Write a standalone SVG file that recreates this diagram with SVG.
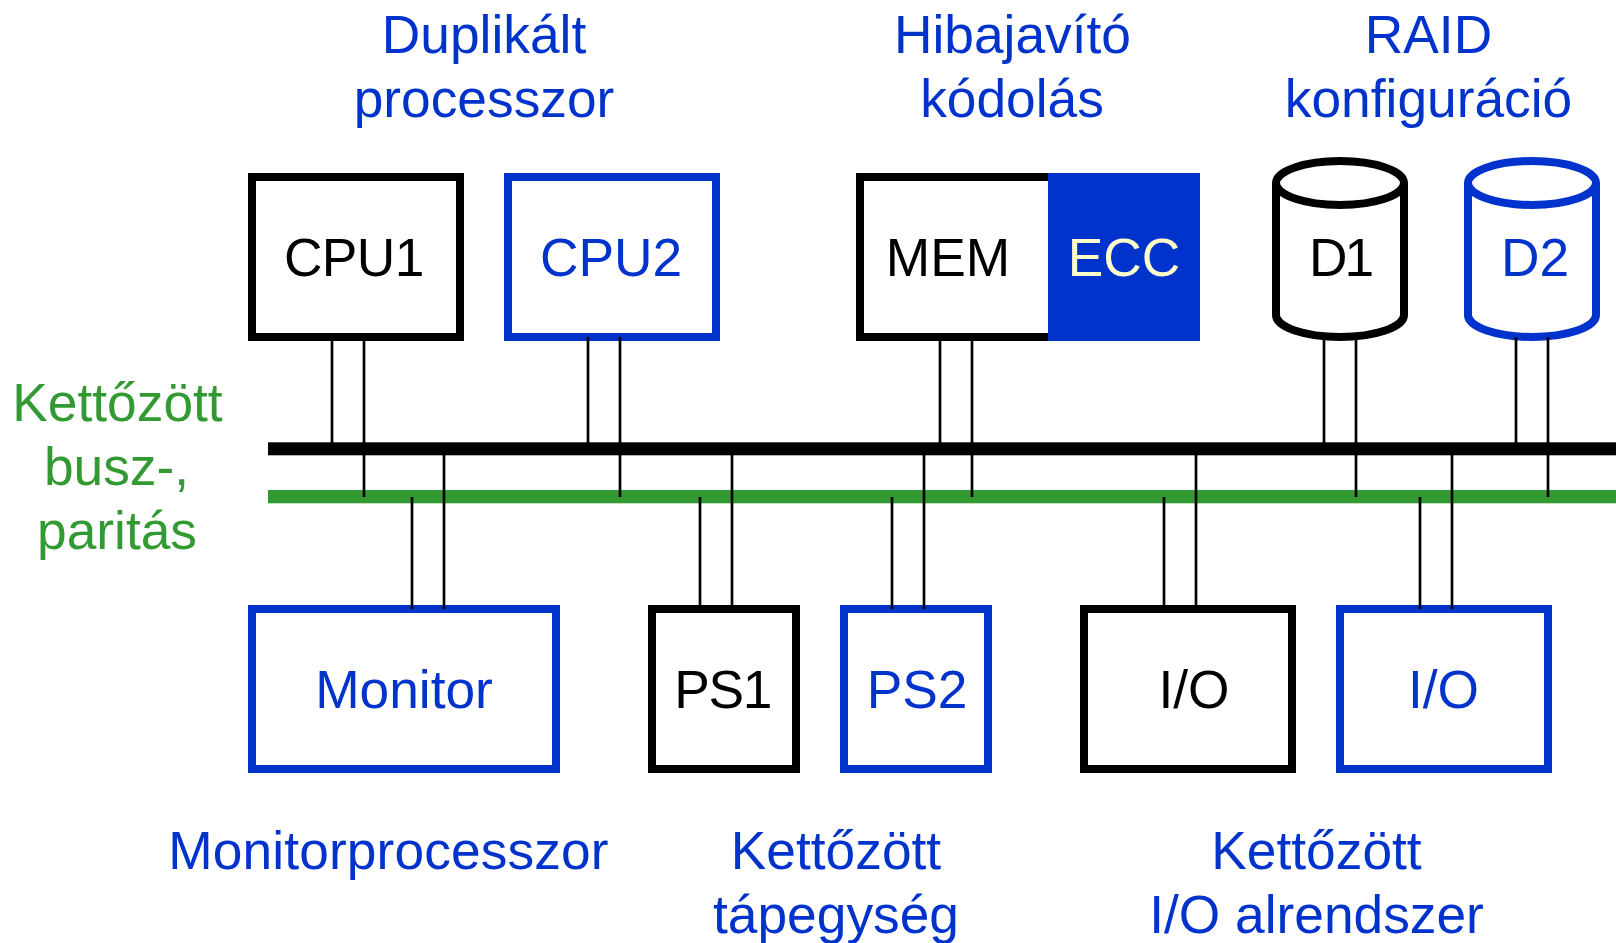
<svg xmlns="http://www.w3.org/2000/svg" width="1616" height="943" viewBox="0 0 1616 943">
<style>
text{font-family:"Liberation Sans",Arial,sans-serif;font-size:53.3px;text-anchor:middle}
.k{fill:#000}.b{fill:#0033cc}.g{fill:#339933}.e{fill:#ffffcc}
.bx{fill:#fff;stroke-width:8}
.sk{stroke:#000}.sb{stroke:#0033cc}
#connectors line{stroke:#000;stroke-width:2.67}
</style>
<rect width="1616" height="943" fill="#fff"/>
<g id="buses">
<rect id="bus-black" x="268" y="442.3" width="1348" height="13" fill="#000"/>
<rect id="bus-green" x="268" y="490" width="1348" height="13.3" fill="#339933"/>
</g>
<g id="cpu1"><rect class="bx sk" x="252" y="177" width="208" height="160"/><text class="k" x="353.8" y="276" letter-spacing="-0.6">CPU1</text></g>
<g id="cpu2"><rect class="bx sb" x="508" y="177" width="208" height="160"/><text class="b" x="611" y="276">CPU2</text></g>
<g id="mem"><rect class="bx sk" x="860" y="177" width="200" height="160"/><text class="k" x="948" y="276">MEM</text></g>
<g id="ecc"><rect x="1048" y="173" width="152" height="168" fill="#0033cc"/><text class="e" x="1124" y="276">ECC</text></g>
<g id="d1"><path class="bx sk" d="M1276 183V315A64 22 0 0 0 1404 315V183"/><ellipse class="bx sk" cx="1340" cy="183" rx="64" ry="22"/><text class="k" x="1340" y="276" letter-spacing="-3">D1</text></g>
<g id="d2"><path class="bx sb" d="M1468 183V315A64 22 0 0 0 1596 315V183"/><ellipse class="bx sb" cx="1532" cy="183" rx="64" ry="22"/><text class="b" x="1535" y="276">D2</text></g>
<g id="monitor"><rect class="bx sb" x="252" y="609" width="304" height="160"/><text class="b" x="404" y="708">Monitor</text></g>
<g id="ps1"><rect class="bx sk" x="652" y="609" width="144" height="160"/><text class="k" x="722.7" y="708" letter-spacing="-1.3">PS1</text></g>
<g id="ps2"><rect class="bx sb" x="844" y="609" width="144" height="160"/><text class="b" x="917" y="708">PS2</text></g>
<g id="io1"><rect class="bx sk" x="1084" y="609" width="208" height="160"/><text class="k" x="1194" y="708">I/O</text></g>
<g id="io2"><rect class="bx sb" x="1340" y="609" width="208" height="160"/><text class="b" x="1443.5" y="708">I/O</text></g>
<g id="connectors">
<line x1="332" y1="337" x2="332" y2="443"/><line x1="364" y1="337" x2="364" y2="497"/>
<line x1="588" y1="337" x2="588" y2="443"/><line x1="620" y1="337" x2="620" y2="497"/>
<line x1="940" y1="337" x2="940" y2="443"/><line x1="972" y1="337" x2="972" y2="497"/>
<line x1="1324" y1="337" x2="1324" y2="443"/><line x1="1356" y1="337" x2="1356" y2="497"/>
<line x1="1516" y1="337" x2="1516" y2="443"/><line x1="1548" y1="337" x2="1548" y2="497"/>
<line x1="412" y1="497" x2="412" y2="609"/><line x1="444" y1="455" x2="444" y2="609"/>
<line x1="700" y1="497" x2="700" y2="609"/><line x1="732" y1="455" x2="732" y2="609"/>
<line x1="892" y1="497" x2="892" y2="609"/><line x1="924" y1="455" x2="924" y2="609"/>
<line x1="1164" y1="497" x2="1164" y2="609"/><line x1="1196" y1="455" x2="1196" y2="609"/>
<line x1="1420" y1="497" x2="1420" y2="609"/><line x1="1452" y1="455" x2="1452" y2="609"/>
</g>
<g id="labels">
<text class="b" x="484" y="53">Duplikált</text><text class="b" x="484" y="117">processzor</text>
<text class="b" x="1012.5" y="53">Hibajavító</text><text class="b" x="1012" y="117">kódolás</text>
<text class="b" x="1428.5" y="53">RAID</text><text class="b" x="1428.5" y="117">konfiguráció</text>
<text class="g" x="117.5" y="421">Kettőzött</text><text class="g" x="116.5" y="485">busz-,</text><text class="g" x="117" y="549">paritás</text>
<text class="b" x="388.5" y="869" letter-spacing="0.12">Monitorprocesszor</text>
<text class="b" x="836" y="869">Kettőzött</text><text class="b" x="836" y="933">tápegység</text>
<text class="b" x="1316.5" y="869">Kettőzött</text><text class="b" x="1316.5" y="933">I/O alrendszer</text>
</g>
</svg>
